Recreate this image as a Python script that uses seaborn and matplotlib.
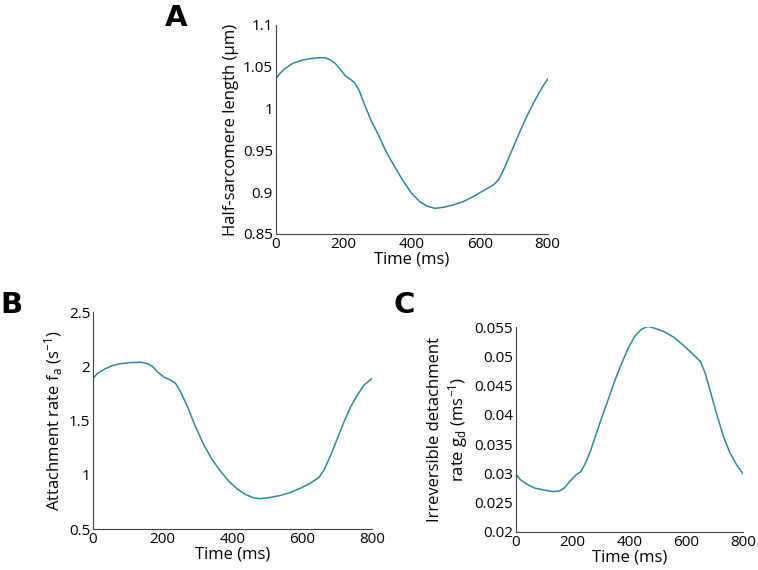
import matplotlib
matplotlib.use("Agg")
import matplotlib.pyplot as plt
import pandas as pd
import seaborn as sns

# panel A: half-sarcomere length (um)
time_a = [0, 10, 25, 50, 75, 100, 125, 145, 160, 175, 190, 205, 220, 232,
          245, 260, 280, 300, 325, 350, 375, 400, 424, 444, 468, 493, 522,
          551, 581, 611, 640, 655, 670, 689, 714, 738, 763, 782, 800]
length_a = [1.0353, 1.0408, 1.0472, 1.0540, 1.0576, 1.0596, 1.0608, 1.0608,
            1.0584, 1.0540, 1.0468, 1.0392, 1.0349, 1.0309, 1.0221, 1.0062,
            0.9863, 0.9703, 0.9484, 0.9305, 0.9133, 0.8986, 0.8886, 0.8835,
            0.8807, 0.8819, 0.8847, 0.8886, 0.8946, 0.9018, 0.9086, 0.9145,
            0.9265, 0.9444, 0.9683, 0.9902, 1.0102, 1.0241, 1.0353]

# panel B: attachment rate f_a (1/s)
time_b = [0, 12, 32, 55, 79, 108, 137, 156, 170, 185, 204, 223, 237, 251,
          271, 294, 318, 342, 366, 390, 414, 438, 462, 481, 510, 538, 567,
          596, 624, 648, 663, 682, 701, 720, 739, 758, 777, 800]
rate_b = [1.887, 1.933, 1.972, 2.006, 2.024, 2.034, 2.037, 2.024, 2.000,
          1.948, 1.899, 1.872, 1.841, 1.765, 1.627, 1.443, 1.275, 1.138,
          1.031, 0.939, 0.868, 0.817, 0.786, 0.780, 0.792, 0.810, 0.838,
          0.878, 0.924, 0.976, 1.046, 1.183, 1.336, 1.489, 1.627, 1.734,
          1.826, 1.887]

# panel C: irreversible detachment rate g_d (1/ms)
time_c = [0, 15, 38, 67, 96, 130, 154, 171, 188, 211, 229, 246, 263, 281,
          304, 327, 350, 373, 396, 419, 442, 465, 488, 523, 558, 592, 627,
          650, 667, 685, 708, 731, 754, 777, 800]
rate_c = [0.0299, 0.0290, 0.0282, 0.0275, 0.0272, 0.0269, 0.0270, 0.0275,
          0.0285, 0.0297, 0.0303, 0.0318, 0.0338, 0.0364, 0.0397, 0.0428,
          0.0460, 0.0488, 0.0514, 0.0534, 0.0546, 0.0551, 0.0548, 0.0542,
          0.0532, 0.0518, 0.0502, 0.0491, 0.0471, 0.0440, 0.0400, 0.0363,
          0.0335, 0.0315, 0.0299]

LINE = "#2b8a98"

sns.set_style("white")
plt.rcParams["font.family"] = ["Open Sans", "DejaVu Sans"]
plt.rcParams["mathtext.default"] = "regular"


def style_axis(ax, ylabel, ylim, yticks, yticklabels):
    ax.set_xlim(0, 800)
    ax.set_ylim(*ylim)
    ax.set_xticks([0, 200, 400, 600, 800])
    ax.set_yticks(yticks)
    ax.set_yticklabels(yticklabels)
    ax.set_xlabel("Time (ms)", fontsize=12, labelpad=0, color="black")
    ax.set_ylabel(ylabel, fontsize=12, labelpad=3, color="black")
    for side in ["top", "right"]:
        ax.spines[side].set_visible(False)
    for side in ["left", "bottom"]:
        ax.spines[side].set_color("#404040")
        ax.spines[side].set_linewidth(0.8)
    ax.tick_params(direction="in", length=3, width=0.8, color="#404040",
                   labelsize=11, pad=2, labelcolor="black")


fig = plt.figure(figsize=(7.58, 5.70), dpi=100)
ax_a = fig.add_axes([0.3637, 0.5895, 0.3588, 0.3667])
ax_b = fig.add_axes([0.1227, 0.0719, 0.3680, 0.3807])
ax_c = fig.add_axes([0.6803, 0.0667, 0.3000, 0.3596])

df_a = pd.DataFrame({"t": time_a, "v": length_a})
df_b = pd.DataFrame({"t": time_b, "v": rate_b})
df_c = pd.DataFrame({"t": time_c, "v": rate_c})

sns.lineplot(df_a, x="t", y="v", ax=ax_a, color=LINE, linewidth=1.1)
sns.lineplot(df_b, x="t", y="v", ax=ax_b, color=LINE, linewidth=1.1)
sns.lineplot(df_c, x="t", y="v", ax=ax_c, color=LINE, linewidth=1.1)

style_axis(ax_a, "Half-sarcomere length (\u00b5m)", (0.85, 1.1),
           [0.85, 0.9, 0.95, 1.0, 1.05, 1.1],
           ["0.85", "0.9", "0.95", "1", "1.05", "1.1"])
style_axis(ax_b, "Attachment rate f$_a$ (s$^{-1}$)", (0.5, 2.5),
           [0.5, 1.0, 1.5, 2.0, 2.5], ["0.5", "1", "1.5", "2", "2.5"])
style_axis(ax_c, "Irreversible detachment\nrate g$_d$ (ms$^{-1}$)",
           (0.02, 0.055),
           [0.02, 0.025, 0.03, 0.035, 0.04, 0.045, 0.05, 0.055],
           ["0.02", "0.025", "0.03", "0.035", "0.04", "0.045", "0.05", "0.055"])

for label, x, y in [("A", 0.217, 0.954), ("B", 0.001, 0.451),
                    ("C", 0.519, 0.451)]:
    fig.text(x, y, label, fontsize=21, fontweight="heavy", va="baseline",
             ha="left", color="black", family=["DejaVu Sans"])

fig.savefig("out.png", dpi=100)
